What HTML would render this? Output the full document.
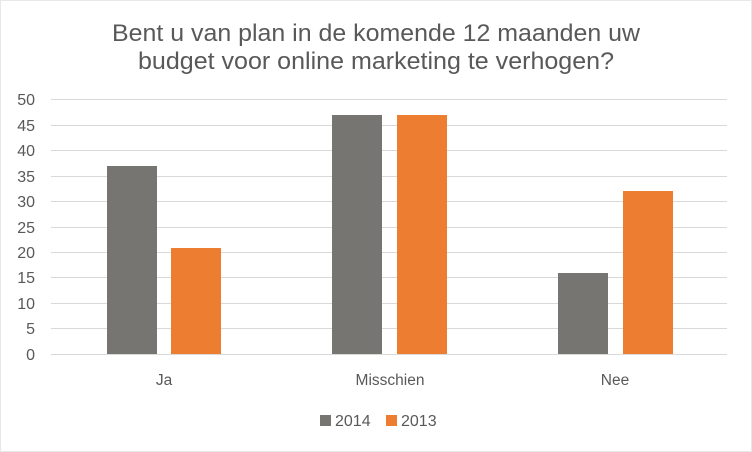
<!DOCTYPE html>
<html><head><style>
body{margin:0;background:#fff}
svg{display:block;font-family:"Liberation Sans",Arial,sans-serif}
</style></head><body>
<svg width="752" height="452" viewBox="0 0 752 452">
<rect x="0.5" y="0.5" width="751" height="451" fill="#fff" stroke="#d0d0d0" stroke-dasharray="1,1"/>
<text x="112" y="41" font-size="24" fill="#595959" textLength="528" lengthAdjust="spacingAndGlyphs">Bent u van plan in de komende 12 maanden uw</text>
<text x="138" y="69" font-size="24" fill="#595959" textLength="476" lengthAdjust="spacingAndGlyphs">budget voor online marketing te verhogen?</text>
<g stroke="#d9d9d9" stroke-width="1">
<line x1="51" x2="727" y1="99.5" y2="99.5"/>
<line x1="51" x2="727" y1="125.5" y2="125.5"/>
<line x1="51" x2="727" y1="150.5" y2="150.5"/>
<line x1="51" x2="727" y1="176.5" y2="176.5"/>
<line x1="51" x2="727" y1="201.5" y2="201.5"/>
<line x1="51" x2="727" y1="227.5" y2="227.5"/>
<line x1="51" x2="727" y1="252.5" y2="252.5"/>
<line x1="51" x2="727" y1="277.5" y2="277.5"/>
<line x1="51" x2="727" y1="303.5" y2="303.5"/>
<line x1="51" x2="727" y1="328.5" y2="328.5"/>
<line x1="51" x2="727" y1="354.5" y2="354.5"/>
</g>
<g font-size="16" fill="#595959" text-anchor="end">
<text x="35" y="105">50</text><text x="35" y="131">45</text><text x="35" y="156">40</text>
<text x="35" y="182">35</text><text x="35" y="207">30</text><text x="35" y="233">25</text>
<text x="35" y="258">20</text><text x="35" y="283">15</text><text x="35" y="309">10</text>
<text x="35" y="334">5</text><text x="35" y="360">0</text>
</g>
<g fill="#767571">
<rect x="107" y="166" width="50" height="188"/>
<rect x="332" y="115" width="50" height="239"/>
<rect x="558" y="273" width="50" height="81"/>
</g>
<g fill="#ed7d31">
<rect x="171" y="248" width="50" height="106"/>
<rect x="397" y="115" width="50" height="239"/>
<rect x="623" y="191" width="50" height="163"/>
</g>
<g font-size="15.5" fill="#595959" text-anchor="middle">
<text x="164" y="385">Ja</text><text x="390" y="385">Misschien</text><text x="615" y="385">Nee</text>
</g>
<rect x="320" y="415" width="11" height="11" fill="#767571"/>
<text x="335" y="426" font-size="16" fill="#595959">2014</text>
<rect x="386" y="415" width="11" height="11" fill="#ed7d31"/>
<text x="401" y="426" font-size="16" fill="#595959">2013</text>
</svg>
</body></html>
